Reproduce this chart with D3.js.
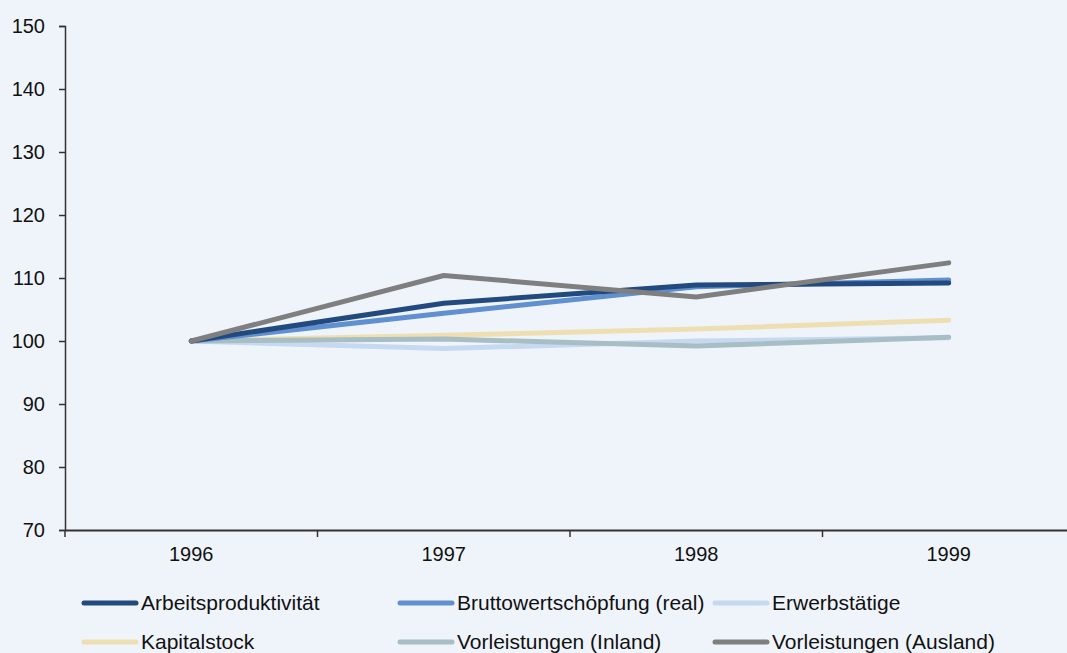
<!DOCTYPE html>
<html><head><meta charset="utf-8">
<script src="https://cdn.jsdelivr.net/npm/d3@7"></script>
<style>
html,body{margin:0;padding:0;background:#EFF4FB;}
svg{display:block;font-family:"Liberation Sans",Arial,sans-serif;}
</style></head><body>
<svg id="chart" width="1067" height="653"></svg>
<script>
const years = ["1996","1997","1998","1999"];
const yTicks = [70,80,90,100,110,120,130,140,150];
const seriesNames = ["Arbeitsproduktivität","Bruttowertschöpfung (real)","Erwerbstätige","Kapitalstock","Vorleistungen (Inland)","Vorleistungen (Ausland)"];
const arbeitsproduktivitaet = [100,106.0,108.9,109.2];
const bruttowertschoepfung = [100,104.4,108.6,109.7];
const erwerbstaetige = [100,98.8,100.0,100.5];
const kapitalstock = [100,100.9,101.9,103.3];
const vorleistungenInland = [100,100.3,99.2,100.6];
const vorleistungenAusland = [100,110.4,107.0,112.4];
const colors = ["#234A7E","#6090D0","#C6D9F1","#EEDFB2","#A6BEC4","#7F7F7F"];

const seriesValues = [arbeitsproduktivitaet,bruttowertschoepfung,erwerbstaetige,kapitalstock,vorleistungenInland,vorleistungenAusland];
const drawOrder = [3,2,4,1,0,5];

const svg = d3.select("#chart");
const mLeft = 65, mRight = 1075, mTop = 26, mBottom = 530;
const FONT = "Liberation Sans, Arial, sans-serif";

const x = d3.scaleBand().domain(years).range([mLeft,mRight]);
const y = d3.scaleLinear().domain([70,150]).range([mBottom,mTop]);

const yAxis = d3.axisLeft(y).tickValues(yTicks).tickSize(6).tickPadding(14);
const gy = svg.append("g").attr("transform",`translate(${mLeft},0)`).call(yAxis);
gy.select(".domain").attr("stroke","#333").attr("stroke-width",1.5);
gy.selectAll(".tick line").attr("stroke","#333").attr("stroke-width",1.5);
gy.selectAll(".tick text").attr("font-size",20).attr("fill","#111").attr("font-family",FONT);

const xAxis = d3.axisBottom(x).tickSize(0).tickPadding(17);
const gx = svg.append("g").attr("transform",`translate(0,${mBottom})`).call(xAxis);
gx.select(".domain").attr("stroke","#333").attr("stroke-width",2);
gx.selectAll(".tick text").attr("font-size",20).attr("fill","#111").attr("font-family",FONT);
const boundaries = years.map(d=>x(d)).concat([x(years[years.length-1])+x.bandwidth()]);
svg.append("g").selectAll("line").data(boundaries).join("line")
  .attr("x1",d=>d).attr("x2",d=>d).attr("y1",mBottom).attr("y2",mBottom+7)
  .attr("stroke","#333").attr("stroke-width",1.5);

const line = d3.line().x((d,i)=>x(years[i])+x.bandwidth()/2).y(d=>y(d));
svg.append("g").selectAll("path").data(drawOrder).join("path")
  .attr("d",i=>line(seriesValues[i]))
  .attr("fill","none").attr("stroke",i=>colors[i]).attr("stroke-width",5)
  .attr("stroke-linecap","round").attr("stroke-linejoin","round");

const legX = [84,400,715], legY = [603,642];
const leg = svg.append("g").selectAll("g").data(seriesNames).join("g")
  .attr("transform",(d,i)=>`translate(${legX[i%3]},${legY[Math.floor(i/3)]})`);
leg.append("line").attr("x1",0).attr("x2",52).attr("y1",0).attr("y2",0)
  .attr("stroke",(d,i)=>colors[i]).attr("stroke-width",5).attr("stroke-linecap","round");
leg.append("text").attr("x",57).attr("y",7).attr("font-size",21).attr("fill","#111").attr("font-family",FONT).text(d=>d);
</script>
</body></html>
